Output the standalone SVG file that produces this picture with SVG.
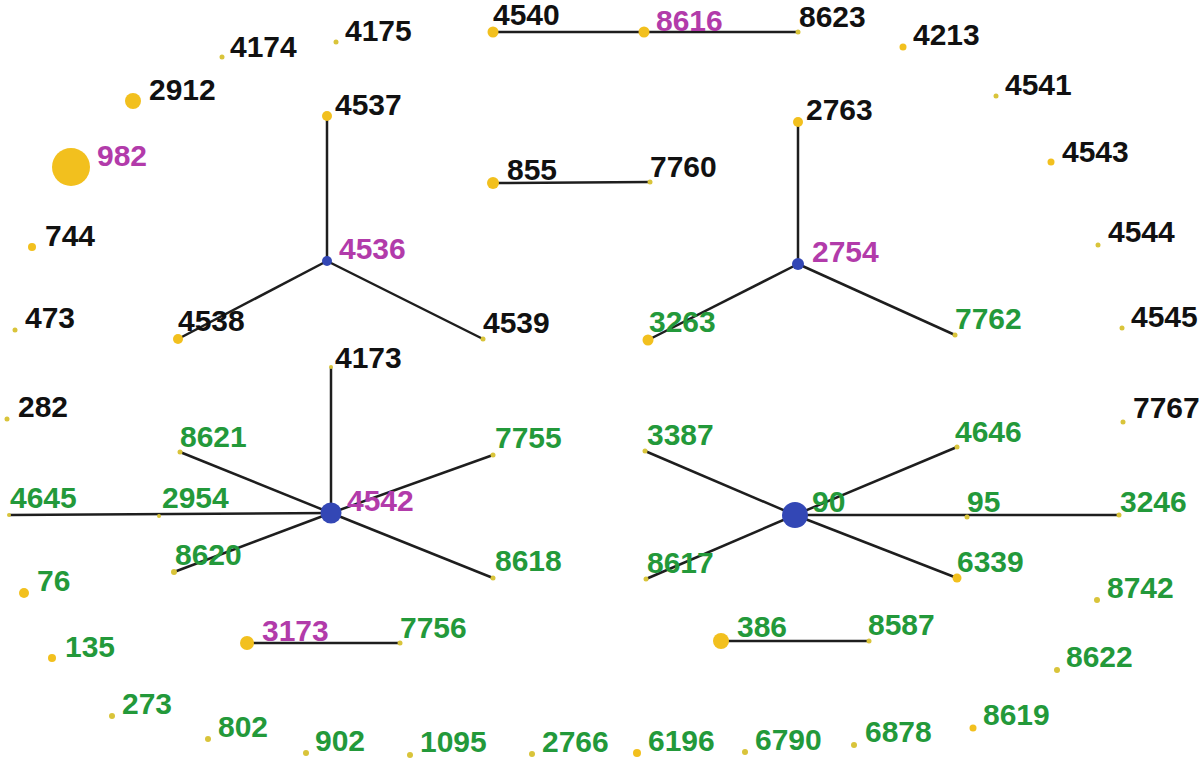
<svg xmlns="http://www.w3.org/2000/svg" width="1200" height="761" viewBox="0 0 1200 761">
<style>
text{font-family:"Liberation Sans",Arial,sans-serif;font-weight:bold;font-size:30px}
.k{fill:#111111}
.m{fill:#B23BAA}
.g{fill:#23993A}
.y{fill:#F2C01E}
.ys{fill:#D9C43A}
.b{fill:#3347B5}
.e{stroke:#1E1E1E;stroke-width:2.5;fill:none}
</style>
<rect width="1200" height="761" fill="#ffffff"/>
<g id="connectors" class="e">
<line x1="493" y1="32" x2="798" y2="32"/>
<line x1="493" y1="183" x2="650" y2="182"/>
<line x1="327" y1="261" x2="327" y2="116"/>
<line x1="327" y1="261" x2="178" y2="339"/>
<line x1="327" y1="261" x2="483" y2="339"/>
<line x1="798" y1="264" x2="798" y2="122"/>
<line x1="798" y1="264" x2="648" y2="340"/>
<line x1="798" y1="264" x2="955" y2="335"/>
<line x1="331" y1="513" x2="331" y2="367"/>
<line x1="331" y1="513" x2="180" y2="452"/>
<line x1="331" y1="513" x2="493" y2="455"/>
<line x1="331" y1="513" x2="9" y2="515"/>
<line x1="331" y1="513" x2="174" y2="572"/>
<line x1="331" y1="513" x2="493" y2="578"/>
<line x1="795" y1="515" x2="645" y2="451"/>
<line x1="795" y1="515" x2="957" y2="447"/>
<line x1="795" y1="515" x2="1119" y2="515"/>
<line x1="795" y1="515" x2="646" y2="579"/>
<line x1="795" y1="515" x2="957" y2="578"/>
<line x1="247" y1="643" x2="400" y2="643"/>
<line x1="721" y1="641" x2="869" y2="641"/>
</g>
<g id="n4174"><circle class="ys" cx="222" cy="57" r="2.5"/><text class="k" x="230" y="57">4174</text></g>
<g id="n4175"><circle class="ys" cx="336" cy="42" r="2.5"/><text class="k" x="345" y="41">4175</text></g>
<g id="n2912"><circle class="y" cx="133" cy="101" r="8"/><text class="k" x="149" y="100">2912</text></g>
<g id="n982"><circle class="y" cx="71" cy="167" r="19"/><text class="m" x="97" y="166">982</text></g>
<g id="n744"><circle class="y" cx="32" cy="247" r="4"/><text class="k" x="45" y="246">744</text></g>
<g id="n473"><circle class="ys" cx="15" cy="330" r="2.5"/><text class="k" x="25" y="328">473</text></g>
<g id="n282"><circle class="ys" cx="7" cy="419" r="2.5"/><text class="k" x="18" y="417">282</text></g>
<g id="n4537"><circle class="y" cx="327" cy="116" r="5"/><text class="k" x="335" y="115">4537</text></g>
<g id="n4536"><circle class="b" cx="327" cy="261" r="5"/><text class="m" x="339" y="259">4536</text></g>
<g id="n4538"><circle class="y" cx="178" cy="339" r="5"/><text class="k" x="178" y="331">4538</text></g>
<g id="n4539"><circle class="ys" cx="483" cy="339" r="2.5"/><text class="k" x="483" y="333">4539</text></g>
<g id="n4540"><circle class="y" cx="493" cy="32" r="5.5"/><text class="k" x="493" y="25">4540</text></g>
<g id="n8616"><circle class="y" cx="644" cy="32" r="5.5"/><text class="m" x="656" y="31">8616</text></g>
<g id="n8623"><circle class="ys" cx="798" cy="32" r="2.5"/><text class="k" x="799" y="27">8623</text></g>
<g id="n855"><circle class="y" cx="493" cy="183" r="6"/><text class="k" x="507" y="180">855</text></g>
<g id="n7760"><circle class="ys" cx="650" cy="182" r="2.5"/><text class="k" x="650" y="177">7760</text></g>
<g id="n2763"><circle class="y" cx="798" cy="122" r="5"/><text class="k" x="806" y="120">2763</text></g>
<g id="n2754"><circle class="b" cx="798" cy="264" r="6"/><text class="m" x="812" y="262">2754</text></g>
<g id="n3263"><circle class="y" cx="648" cy="340" r="5.5"/><text class="g" x="649" y="332">3263</text></g>
<g id="n7762"><circle class="ys" cx="955" cy="335" r="2.5"/><text class="g" x="955" y="329">7762</text></g>
<g id="n4213"><circle class="y" cx="903" cy="47" r="3.5"/><text class="k" x="913" y="45">4213</text></g>
<g id="n4541"><circle class="ys" cx="996" cy="96" r="2.5"/><text class="k" x="1005" y="95">4541</text></g>
<g id="n4543"><circle class="y" cx="1051" cy="162" r="3.5"/><text class="k" x="1062" y="162">4543</text></g>
<g id="n4544"><circle class="ys" cx="1098" cy="245" r="2.5"/><text class="k" x="1108" y="242">4544</text></g>
<g id="n4545"><circle class="ys" cx="1122" cy="328" r="2.5"/><text class="k" x="1131" y="327">4545</text></g>
<g id="n7767"><circle class="ys" cx="1123" cy="422" r="2.5"/><text class="k" x="1133" y="418">7767</text></g>
<g id="n4173"><circle class="ys" cx="331" cy="367" r="2"/><text class="k" x="335" y="368">4173</text></g>
<g id="n8621"><circle class="ys" cx="180" cy="452" r="2.5"/><text class="g" x="180" y="447">8621</text></g>
<g id="n7755"><circle class="ys" cx="493" cy="455" r="2.5"/><text class="g" x="495" y="448">7755</text></g>
<g id="n4645"><circle class="ys" cx="9" cy="515" r="2"/><text class="g" x="10" y="508">4645</text></g>
<g id="n2954"><circle class="ys" cx="159" cy="516" r="2"/><text class="g" x="162" y="508">2954</text></g>
<g id="n4542"><circle class="b" cx="331" cy="513" r="10.5"/><text class="m" x="347" y="511">4542</text></g>
<g id="n8620"><circle class="ys" cx="174" cy="572" r="3"/><text class="g" x="175" y="565">8620</text></g>
<g id="n8618"><circle class="ys" cx="493" cy="578" r="2.5"/><text class="g" x="495" y="571">8618</text></g>
<g id="n3387"><circle class="ys" cx="645" cy="451" r="2.5"/><text class="g" x="647" y="445">3387</text></g>
<g id="n4646"><circle class="ys" cx="957" cy="447" r="2.5"/><text class="g" x="955" y="442">4646</text></g>
<g id="n90"><circle class="b" cx="795" cy="515" r="13"/><text class="g" x="812" y="512">90</text></g>
<g id="n95"><circle class="ys" cx="967" cy="517" r="2.5"/><text class="g" x="967" y="512">95</text></g>
<g id="n3246"><circle class="ys" cx="1119" cy="515" r="2.5"/><text class="g" x="1120" y="512">3246</text></g>
<g id="n8617"><circle class="ys" cx="646" cy="579" r="2.5"/><text class="g" x="647" y="573">8617</text></g>
<g id="n6339"><circle class="y" cx="957" cy="578" r="4.5"/><text class="g" x="957" y="572">6339</text></g>
<g id="n8742"><circle class="ys" cx="1097" cy="600" r="3"/><text class="g" x="1107" y="598">8742</text></g>
<g id="n76"><circle class="y" cx="24" cy="593" r="5"/><text class="g" x="37" y="591">76</text></g>
<g id="n135"><circle class="y" cx="52" cy="658" r="4"/><text class="g" x="65" y="657">135</text></g>
<g id="n3173"><circle class="y" cx="247" cy="643" r="7"/><text class="m" x="262" y="641">3173</text></g>
<g id="n7756"><circle class="ys" cx="400" cy="643" r="2.5"/><text class="g" x="400" y="638">7756</text></g>
<g id="n386"><circle class="y" cx="721" cy="641" r="8"/><text class="g" x="737" y="637">386</text></g>
<g id="n8587"><circle class="ys" cx="869" cy="641" r="2.5"/><text class="g" x="868" y="635">8587</text></g>
<g id="n8622"><circle class="ys" cx="1057" cy="670" r="3"/><text class="g" x="1066" y="667">8622</text></g>
<g id="n8619"><circle class="y" cx="973" cy="728" r="3.5"/><text class="g" x="983" y="725">8619</text></g>
<g id="n273"><circle class="ys" cx="112" cy="716" r="3"/><text class="g" x="122" y="714">273</text></g>
<g id="n802"><circle class="ys" cx="208" cy="739" r="3"/><text class="g" x="218" y="737">802</text></g>
<g id="n902"><circle class="ys" cx="306" cy="753" r="3"/><text class="g" x="315" y="751">902</text></g>
<g id="n1095"><circle class="ys" cx="410" cy="755" r="3"/><text class="g" x="420" y="752">1095</text></g>
<g id="n2766"><circle class="ys" cx="532" cy="754" r="3"/><text class="g" x="542" y="752">2766</text></g>
<g id="n6196"><circle class="y" cx="637" cy="753" r="4"/><text class="g" x="648" y="751">6196</text></g>
<g id="n6790"><circle class="ys" cx="745" cy="752" r="3"/><text class="g" x="755" y="750">6790</text></g>
<g id="n6878"><circle class="ys" cx="854" cy="745" r="3"/><text class="g" x="865" y="742">6878</text></g>
</svg>
